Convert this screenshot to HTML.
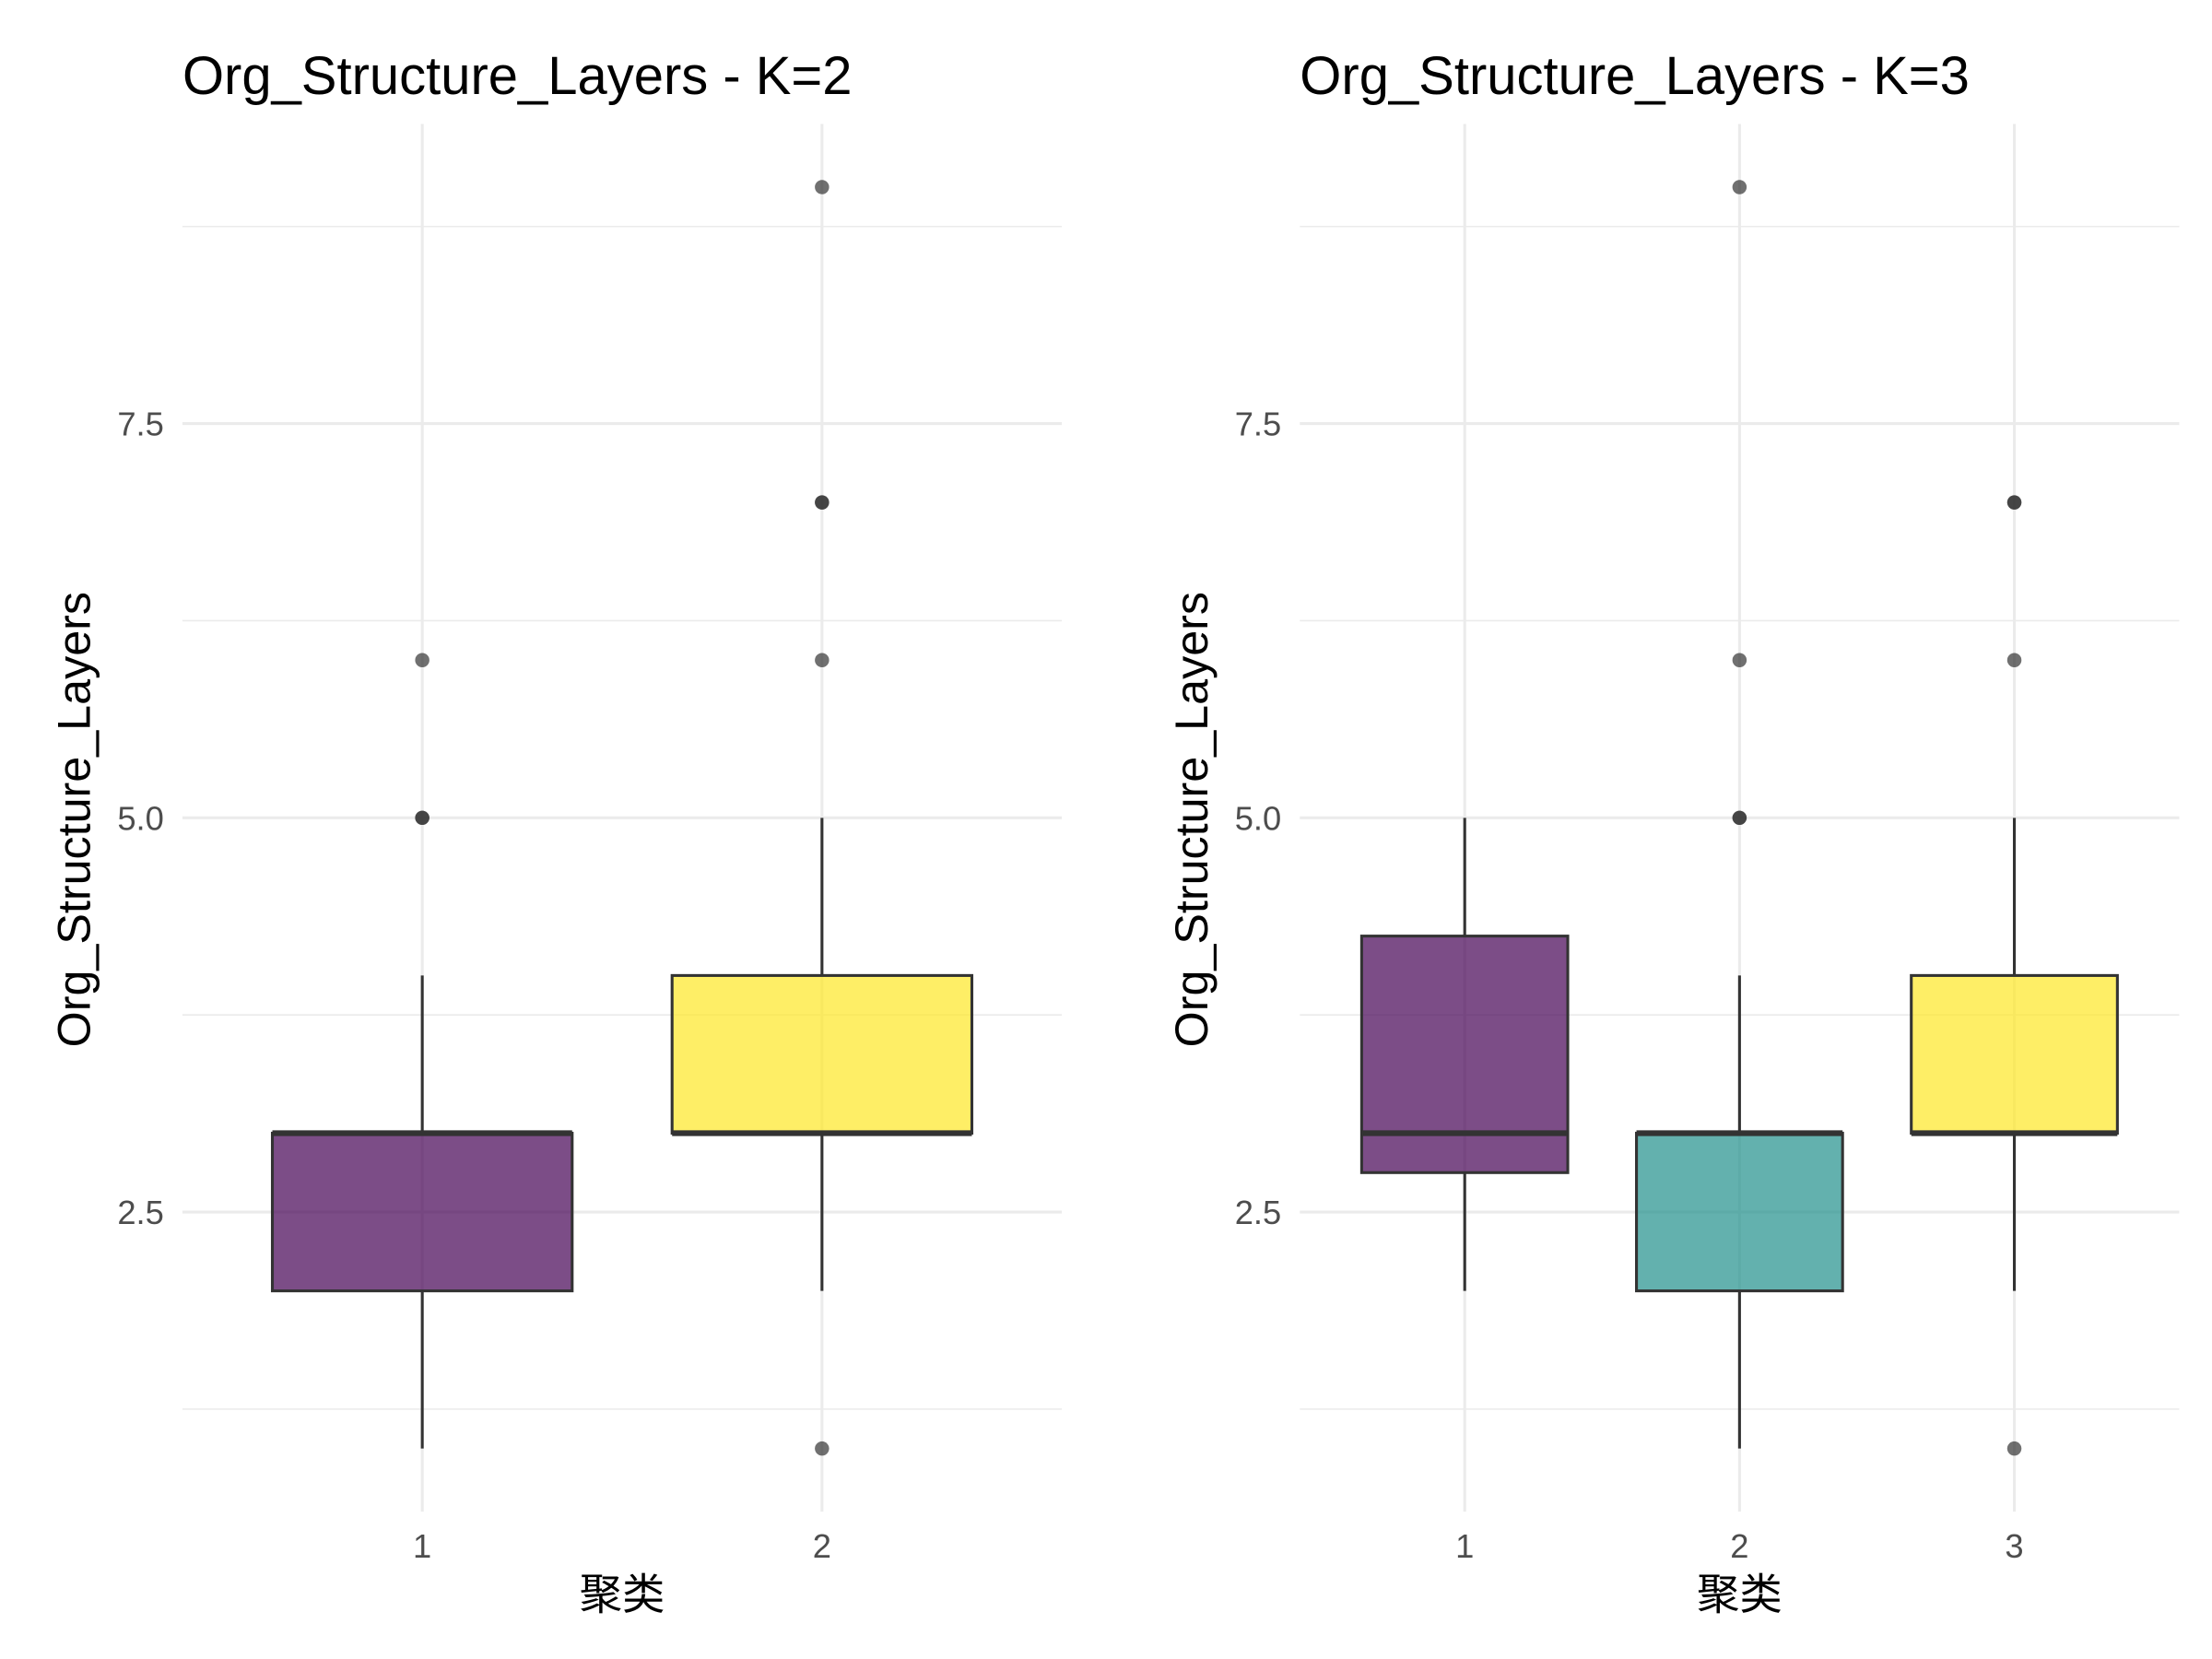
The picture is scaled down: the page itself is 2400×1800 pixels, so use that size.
<!DOCTYPE html>
<html><head><meta charset="utf-8"><style>
html,body{margin:0;padding:0;background:#fff;}
svg{display:block;}
text{font-family:"Liberation Sans","Noto Sans CJK SC",sans-serif;}
</style></head><body>
<svg id="chart" width="2400" height="1800" viewBox="0 0 1552 1164" xmlns="http://www.w3.org/2000/svg"></svg>
<script>
// Panel K=2
const k2Categories = ["1","2"];
const k2Whisker = [[1,4],[2,5]];
const k2Box = [[2,3,3],[3,3,4]];          // q1, median, q3
const k2Outliers = [[5,5,6],[1,6,7,7,9]];
const k2Colors = ["#440154","#FDE725"];
// Panel K=3
const k3Categories = ["1","2","3"];
const k3Whisker = [[2,5],[1,4],[2,5]];
const k3Box = [[2.75,3,4.25],[2,3,3],[3,3,4]];
const k3Outliers = [[],[5,5,6,9],[1,6,7,7]];
const k3Colors = ["#440154","#21908C","#FDE725"];
const yTicks = [2.5,5.0,7.5];
const yTickLabels = ["2.5","5.0","7.5"];
const yMinor = [1.25,3.75,6.25,8.75];
const yDomain = [0.6,9.4];

const NS="http://www.w3.org/2000/svg";
const svg=document.getElementById('chart');
function mk(tag,attrs,parent){const e=document.createElementNS(NS,tag);for(const k in attrs)e.setAttribute(k,attrs[k]);(parent||svg).appendChild(e);return e;}

function panel(x0,x1,title,cats,whisk,box,outs,cols,pname){
  const top=87,bot=1060.6;
  const g=mk('g',{});
  
  
  const y=v=>bot-(v-yDomain[0])/(yDomain[1]-yDomain[0])*(bot-top);
  const n=cats.length, lo=0.4, hi=n+0.6;
  const x=c=>x0+(c-lo)/(hi-lo)*(x1-x0);
  const unit=(x1-x0)/(hi-lo);
  yMinor.forEach(v=>{const l=mk('line',{x1:x0,x2:x1,y1:y(v),y2:y(v),stroke:'#ebebeb','stroke-width':1},g);
    });
  yTicks.forEach((v,i)=>{const l=mk('line',{x1:x0,x2:x1,y1:y(v),y2:y(v),stroke:'#ebebeb','stroke-width':2},g);
    
    const t=mk('text',{x:x0-13,y:y(v)+8.5,'text-anchor':'end','font-size':23.5,fill:'#4d4d4d'},g);t.textContent=yTickLabels[i];
    });
  cats.forEach((c,i)=>{const cx=x(i+1);
    const l=mk('line',{x1:cx,x2:cx,y1:top,y2:bot,stroke:'#ebebeb','stroke-width':2},g);
    
    const t=mk('text',{x:cx,y:1093,'text-anchor':'middle','font-size':23.5,fill:'#4d4d4d'},g);t.textContent=c;
    });
  cats.forEach((c,i)=>{const cx=x(i+1),hw=unit*0.375;
    const [q1,md,q3]=box[i];
    const wl=mk('line',{x1:cx,x2:cx,y1:y(whisk[i][0]),y2:y(q1),stroke:'#333','stroke-width':2},g);
    
    const wu=mk('line',{x1:cx,x2:cx,y1:y(q3),y2:y(whisk[i][1]),stroke:'#333','stroke-width':2},g);
    
    const r=mk('rect',{x:cx-hw,y:y(q3),width:2*hw,height:y(q1)-y(q3),fill:cols[i],'fill-opacity':0.7,stroke:'#333','stroke-width':2},g);
    
    const m=mk('line',{x1:cx-hw,x2:cx+hw,y1:y(md),y2:y(md),stroke:'#333','stroke-width':4},g);
    
    outs[i].forEach(v=>{const p=mk('circle',{cx:cx,cy:y(v),r:5,fill:'#333','fill-opacity':0.7},g);
      });
  });
  const t=mk('text',{x:x0,y:66,'font-size':37.5,fill:'#000'},g);t.textContent=title;
  
  const yt=mk('text',{x:0,y:0,'font-size':32.5,fill:'#000','text-anchor':'middle',transform:`translate(${x0-65},575) rotate(-90)`},g);
  yt.textContent='Org_Structure_Layers';
  
  const xt=mk('text',{x:(x0+x1)/2,y:1129,'font-size':30,fill:'#000','text-anchor':'middle'},g);
  xt.textContent='聚类';
  
}
panel(128,745,'Org_Structure_Layers - K=2',k2Categories,k2Whisker,k2Box,k2Outliers,k2Colors,'panel-k2');
panel(912,1529,'Org_Structure_Layers - K=3',k3Categories,k3Whisker,k3Box,k3Outliers,k3Colors,'panel-k3');
</script>
</body></html>
